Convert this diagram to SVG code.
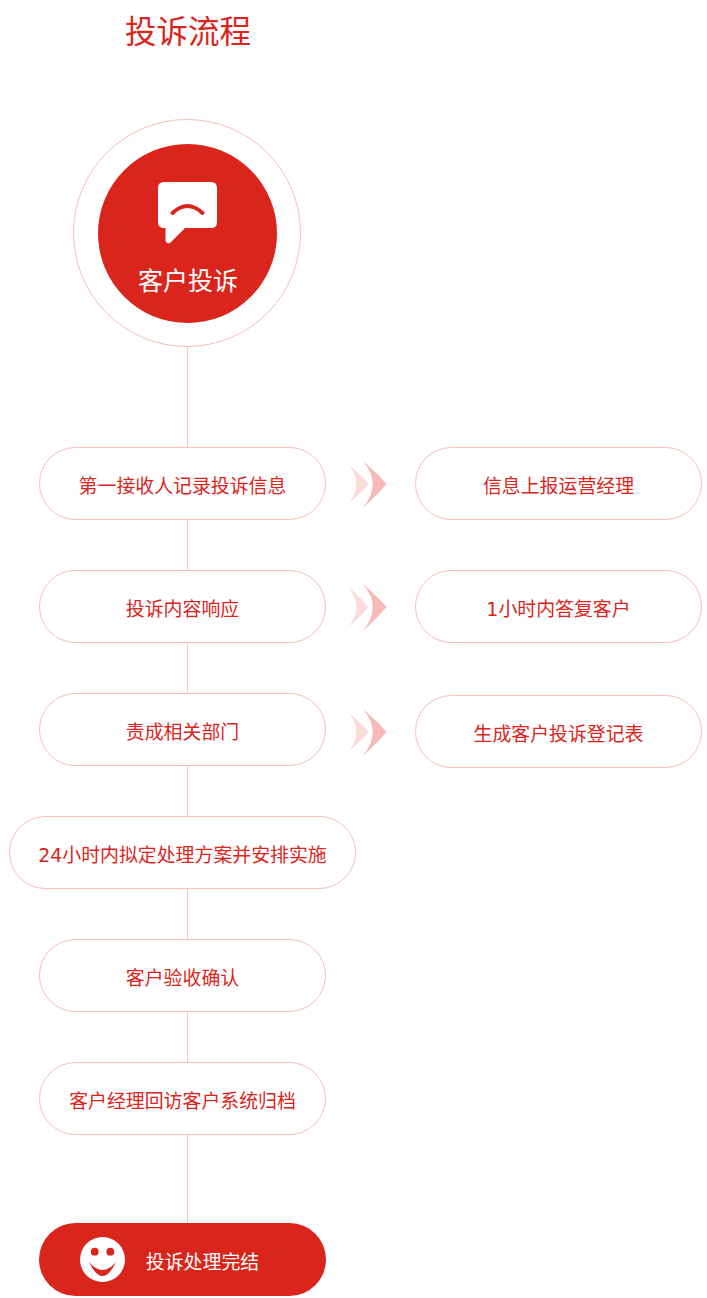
<svg xmlns="http://www.w3.org/2000/svg" width="707" height="1298" viewBox="0 0 707 1298">
<style>
text{font-family:"DejaVu Sans","Noto Sans CJK SC",sans-serif;text-anchor:middle;fill:#da251c}
.n text{font-size:18.900px}
.p{fill:#fff;stroke:#f5bdb9;stroke-width:1}
.c{stroke:#f2c9c6;stroke-width:1;fill:none}
.a1{fill:#fbdcda}
.a2{fill:#f6bab7}
</style>
<defs>
<g id="chev">
<path class="a1" d="M348.500 464Q362 476 368.500 484Q362 492 348.500 504Q364 484 348.500 464Z"/>
<path class="a2" d="M362.500 460.500Q378 474 386.500 484Q378 494 362.500 508.500Q383 484 362.500 460.500Z"/>
</g>
</defs>
<rect width="707" height="1298" fill="#fff"/>
<g id="connectors">
<path class="c" d="M187.500 346V1223"/>
</g>
<g id="title"><text x="188" y="43" style="font-size:31.500px">投诉流程</text></g>
<g id="start">
<circle cx="187" cy="233" r="113.500" fill="#fff" stroke="#f5bdb9"/>
<circle cx="187.500" cy="233.500" r="89.500" fill="#da251c"/>
<path fill="#fff" d="M164 182H211Q217 182 217 188V222Q217 228 211 228H185L170 243Q166 244 165.500 240V228H164Q158 228 158 222V188Q158 182 164 182Z"/>
<path d="M172.500 213Q187.500 199 202.500 213" fill="none" stroke="#da251c" stroke-width="4" stroke-linecap="round"/>
<text x="188" y="290" style="font-size:25px;fill:#fff">客户投诉</text>
</g>
<g id="n1" class="n"><rect class="p" x="39.500" y="447.500" width="286" height="72" rx="36"/><text x="182.500" y="493">第一接收人记录投诉信息</text></g>
<g id="n2" class="n"><rect class="p" x="39.500" y="570.500" width="286" height="72" rx="36"/><text x="182.500" y="616">投诉内容响应</text></g>
<g id="n3" class="n"><rect class="p" x="39.500" y="693.500" width="286" height="72" rx="36"/><text x="182.500" y="739">责成相关部门</text></g>
<g id="n4" class="n"><rect class="p" x="9.500" y="816.500" width="346" height="72" rx="36"/><text x="182.500" y="862">24小时内拟定处理方案并安排实施</text></g>
<g id="n5" class="n"><rect class="p" x="39.500" y="939.500" width="286" height="72" rx="36"/><text x="182.500" y="985">客户验收确认</text></g>
<g id="n6" class="n"><rect class="p" x="39.500" y="1062.500" width="286" height="72" rx="36"/><text x="182.500" y="1108">客户经理回访客户系统归档</text></g>
<g id="r1" class="n"><rect class="p" x="415.500" y="447.500" width="286" height="72" rx="36"/><text x="558.500" y="493">信息上报运营经理</text></g>
<g id="r2" class="n"><rect class="p" x="415.500" y="570.500" width="286" height="72" rx="36"/><text x="558.500" y="616">1小时内答复客户</text></g>
<g id="r3" class="n"><rect class="p" x="415.500" y="695.500" width="286" height="72" rx="36"/><text x="558.500" y="741">生成客户投诉登记表</text></g>
<g id="chevrons">
<use href="#chev"/>
<use href="#chev" y="123"/>
<use href="#chev" y="248"/>
</g>
<g id="end" class="n">
<rect x="39" y="1223" width="287" height="73" rx="36.500" fill="#da251c"/>
<circle cx="102.500" cy="1259.500" r="22.500" fill="#fff"/>
<circle cx="94.700" cy="1251.700" r="3.900" fill="#da251c"/>
<circle cx="110.300" cy="1251.700" r="3.900" fill="#da251c"/>
<path fill="#da251c" d="M89 1262Q102.500 1278 116 1262Q102.500 1290 89 1262Z"/>
<text x="202.500" y="1269" style="fill:#fff">投诉处理完结</text>
</g>
</svg>
